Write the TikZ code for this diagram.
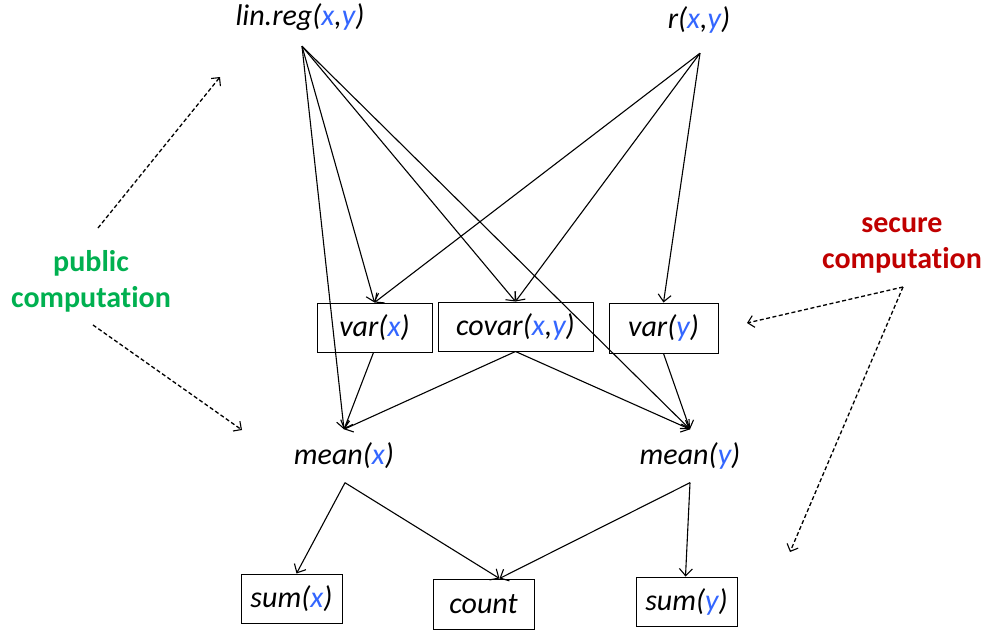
\documentclass[tikz,border=0pt]{standalone}
\usepackage{fontspec}
\setmainfont{Carlito}[Ligatures=NoCommon]
\usetikzlibrary{arrows.meta}
\definecolor{vblue}{RGB}{51,102,255}
\definecolor{pgreen}{RGB}{0,176,80}
\definecolor{sred}{RGB}{192,0,0}
\newcommand{\vx}{\textcolor{vblue}{x}}
\newcommand{\vy}{\textcolor{vblue}{y}}
\begin{document}
\begin{tikzpicture}[x=1pt,y=-1pt,
  lab/.style={font=\fontsize{30}{34}\selectfont\itshape, inner sep=0pt},
  boxn/.style={lab, draw, line width=1pt},
  conn/.style={line width=1.1pt, -{Straight Barb[length=7pt,width=13pt,line width=1.1pt]}},
  dconn/.style={line width=1.3pt, dash pattern=on 4pt off 2.5pt, -{Straight Barb[length=6pt,width=12pt,line width=1.1pt]}},
  note/.style={font=\fontsize{30}{36}\selectfont\bfseries, align=center, inner sep=0pt}]
\useasboundingbox (0,0) rectangle (988,630);
% top nodes
\node[lab, minimum height=58pt] (lr) at (300,17) {lin.reg(\vx,\vy)};
\node[lab, minimum height=66pt] (r) at (699,20) {r(\vx,\vy)};
% boxes
\node[boxn, minimum width=115pt, minimum height=49pt] (vx) at (374.5,327.5) {var(\vx)};
\node[boxn, minimum width=155pt, minimum height=49pt] (cv) at (515.5,326.5) {covar(\vx,\vy)};
\node[boxn, minimum width=109pt, minimum height=50pt] (vy) at (663.5,328) {var(\vy)};
% means
\node[lab, minimum height=53pt] (mx) at (344,456) {mean(\vx)};
\node[lab, minimum height=53pt] (my) at (690,456) {mean(\vy)};
% bottom boxes
\node[boxn, minimum width=101pt, minimum height=49pt] (sx) at (291.5,598.5) {sum(\vx)};
\node[boxn, minimum width=101pt, minimum height=50pt] (ct) at (483.5,604) {count};
\node[boxn, minimum width=101pt, minimum height=49pt] (sy) at (686.5,601.5) {sum(\vy)};
% notes
\node[note, text=pgreen] (pub) at (91,281) {public\\computation};
\node[note, text=sred] (sec) at (902,245) {secure\\computation};
\coordinate (pubtop) at (98,228);
\coordinate (pubbot) at (93,325);
\coordinate (secap) at (903,287);
\coordinate (pubarrA) at (220,77);
\coordinate (pubarrB) at (242,430);
\coordinate (secarrA) at (747,323);
\coordinate (secarrB) at (790,552);
% lin.reg connectors
\draw[conn] ([xshift=2pt]lr.south) -- (vx.north);
\draw[conn] ([xshift=2pt]lr.south) -- (cv.north);
\draw[conn] ([xshift=2pt]lr.south) -- (mx.north);
\draw[conn] ([xshift=2pt]lr.south) -- (my.north);
% r connectors
\draw[conn] ([xshift=1pt]r.south) -- (vx.north);
\draw[conn] ([xshift=1pt]r.south) -- (cv.north);
\draw[conn] ([xshift=1pt]r.south) -- (vy.north);
% middle to means
\draw[conn] ([xshift=-1pt]vx.south) -- (mx.north);
\draw[conn] (cv.south) -- (mx.north);
\draw[conn] (cv.south) -- (my.north);
\draw[conn] (vy.south) -- (my.north);
% means to bottom
\draw[conn] ([xshift=1pt]mx.south) -- ([xshift=5pt]sx.north);
\draw[conn] ([xshift=1pt]mx.south) -- ([xshift=16pt]ct.north);
\draw[conn] (my.south) -- ([xshift=16pt]ct.north);
\draw[conn] (my.south) -- ([xshift=-1pt]sy.north);
% dashed notes
\draw[dconn] (pubtop) -- (pubarrA);
\draw[dconn] (pubbot) -- (pubarrB);
\draw[dconn] (secap) -- (secarrA);
\draw[dconn] (secap) -- (secarrB);
\end{tikzpicture}
\end{document}
